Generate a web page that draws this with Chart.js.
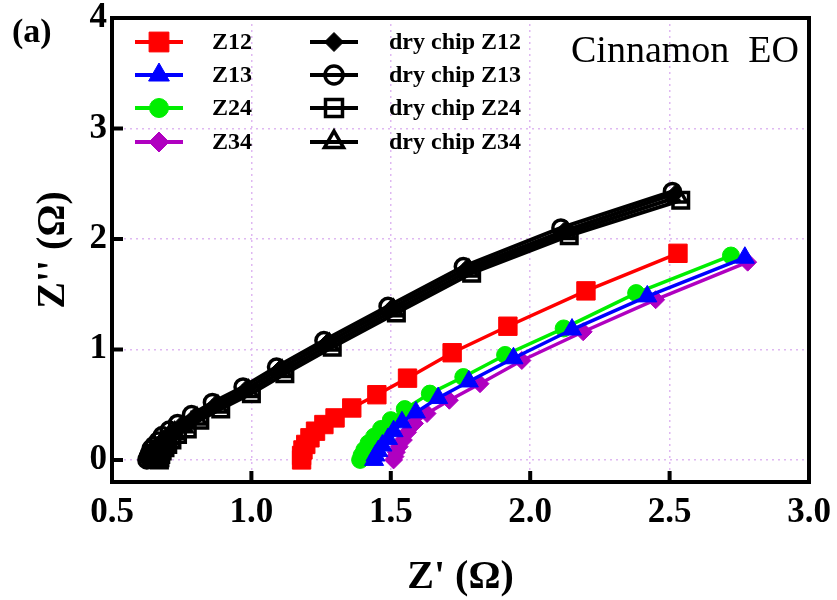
<!DOCTYPE html>
<html>
<head>
<meta charset="utf-8">
<script src="https://cdn.jsdelivr.net/npm/chart.js@4.4.0/dist/chart.umd.min.js"></script>
<style>
  html, body { margin: 0; padding: 0; background: #fff; }
</style>
</head>
<body>
<canvas id="nyquist" width="837" height="600"></canvas>
<script>
// tick values
const xTicks = [0.5, 1.0, 1.5, 2.0, 2.5, 3.0];
const yTicks = [0, 1, 2, 3, 4];

// EO-treated chip, Z' / Z'' in ohm
const z12X = [1.18, 1.18, 1.185, 1.195, 1.21, 1.23, 1.26, 1.30, 1.36, 1.45, 1.56, 1.72, 1.92, 2.20, 2.53];
const z12Y = [0.00, 0.04, 0.09, 0.14, 0.20, 0.26, 0.32, 0.38, 0.47, 0.59, 0.74, 0.97, 1.21, 1.53, 1.87];
const z13X = [1.44, 1.445, 1.455, 1.47, 1.49, 1.51, 1.54, 1.59, 1.67, 1.78, 1.94, 2.15, 2.42, 2.77];
const z13Y = [0.00, 0.04, 0.08, 0.13, 0.19, 0.26, 0.34, 0.43, 0.56, 0.71, 0.92, 1.18, 1.48, 1.83];
const z24X = [1.39, 1.395, 1.405, 1.42, 1.44, 1.465, 1.50, 1.55, 1.64, 1.76, 1.91, 2.12, 2.38, 2.72];
const z24Y = [0.00, 0.04, 0.09, 0.15, 0.21, 0.28, 0.36, 0.46, 0.60, 0.75, 0.95, 1.19, 1.51, 1.85];
const z34X = [1.51, 1.515, 1.52, 1.53, 1.545, 1.56, 1.585, 1.63, 1.71, 1.82, 1.97, 2.19, 2.45, 2.78];
const z34Y = [0.00, 0.03, 0.07, 0.12, 0.18, 0.25, 0.33, 0.42, 0.54, 0.69, 0.90, 1.16, 1.45, 1.79];

// dry chip
const dry12X = [0.63, 0.635, 0.64, 0.65, 0.66, 0.675, 0.69, 0.715, 0.745, 0.795, 0.87, 0.98, 1.10, 1.27, 1.50, 1.77, 2.12, 2.52];
const dry12Y = [0.00, 0.03, 0.06, 0.09, 0.12, 0.16, 0.20, 0.25, 0.31, 0.39, 0.50, 0.64, 0.82, 1.06, 1.37, 1.73, 2.07, 2.41];
const dry13X = [0.625, 0.63, 0.635, 0.64, 0.65, 0.665, 0.68, 0.705, 0.735, 0.785, 0.86, 0.97, 1.09, 1.26, 1.49, 1.76, 2.11, 2.51];
const dry13Y = [0.00, 0.03, 0.06, 0.10, 0.13, 0.17, 0.22, 0.27, 0.33, 0.41, 0.52, 0.66, 0.84, 1.08, 1.39, 1.75, 2.10, 2.43];
const dry24X = [0.67, 0.672, 0.675, 0.68, 0.69, 0.70, 0.715, 0.735, 0.77, 0.815, 0.89, 1.00, 1.12, 1.29, 1.52, 1.79, 2.14, 2.54];
const dry24Y = [0.00, 0.02, 0.05, 0.08, 0.11, 0.14, 0.18, 0.23, 0.28, 0.36, 0.46, 0.60, 0.78, 1.02, 1.33, 1.69, 2.03, 2.35];
const dry34X = [0.645, 0.65, 0.655, 0.66, 0.67, 0.685, 0.70, 0.725, 0.755, 0.805, 0.88, 0.99, 1.11, 1.28, 1.51, 1.78, 2.13, 2.53];
const dry34Y = [0.00, 0.03, 0.05, 0.08, 0.11, 0.15, 0.19, 0.24, 0.30, 0.37, 0.48, 0.62, 0.80, 1.04, 1.35, 1.71, 2.05, 2.38];

function pts(xs, ys) {
    return xs.map((x, i) => ({ x: x, y: ys[i] }));
}

const serif = "'Liberation Serif', 'Times New Roman', serif";

function filled(label, xs, ys, color, style, r, order) {
    return {
        label: label, data: pts(xs, ys), showLine: true,
        borderColor: color, backgroundColor: color, borderWidth: 3.5,
        pointStyle: style, pointRadius: r, pointHoverRadius: r,
        pointBackgroundColor: color, pointBorderColor: color, pointBorderWidth: 1,
        order: order
    };
}
function hollow(label, xs, ys, style, r, order) {
    return {
        label: label, data: pts(xs, ys), showLine: true,
        borderColor: '#000', backgroundColor: '#000', borderWidth: 4,
        pointStyle: style, pointRadius: r, pointHoverRadius: r,
        pointBackgroundColor: 'rgba(0,0,0,0)', pointBorderColor: '#000', pointBorderWidth: 3.5,
        order: order
    };
}

const datasets = [
    filled('Z12', z12X, z12Y, '#ff0000', 'rect', 13, 1),
    filled('Z13', z13X, z13Y, '#0000ff', 'triangle', 11, 2),
    filled('Z24', z24X, z24Y, '#00ee00', 'circle', 8.5, 3),
    filled('Z34', z34X, z34Y, '#b000c0', 'rectRot', 9, 4),
    Object.assign(filled('dry chip Z12', dry12X, dry12Y, '#000', 'rectRot', 8.5, 5), { borderWidth: 4 }),
    hollow('dry chip Z13', dry13X, dry13Y, 'circle', 8, 6),
    hollow('dry chip Z24', dry24X, dry24Y, 'rect', 11, 7),
    hollow('dry chip Z34', dry34X, dry34Y, 'triangle', 10, 8)
];

// frame, inner ticks, legend and labels
const decor = {
    id: 'decor',
    afterDraw(chart) {
        const ctx = chart.ctx;
        const ca = chart.chartArea;
        const xs = chart.scales.x, ys = chart.scales.y;
        ctx.save();
        ctx.strokeStyle = '#000';
        ctx.lineWidth = 4;
        ctx.strokeRect(ca.left, ca.top, ca.right - ca.left, ca.bottom - ca.top);
        ctx.beginPath();
        xTicks.slice(1, -1).forEach(v => {
            const px = xs.getPixelForValue(v);
            ctx.moveTo(px, ca.bottom);
            ctx.lineTo(px, ca.bottom - 11);
        });
        yTicks.slice(0, -1).forEach(v => {
            const py = ys.getPixelForValue(v);
            ctx.moveTo(ca.left, py);
            ctx.lineTo(ca.left + 11, py);
        });
        ctx.stroke();

        ctx.fillStyle = '#000';
        ctx.textBaseline = 'middle';
        ctx.font = 'bold 34px ' + serif;
        ctx.fillText('(a)', 12, 33);
        ctx.textBaseline = 'alphabetic';
        ctx.font = '38px ' + serif;
        ctx.fillText('Cinnamon  EO', 571, 62);

        // legend, two columns
        const rows = [42, 75, 108, 142];
        const cols = [{ l: 135, r: 183, t: 212 }, { l: 310, r: 358, t: 389 }];
        ctx.font = 'bold 24px ' + serif;
        ctx.textBaseline = 'middle';
        chart.data.datasets.forEach((ds, i) => {
            const c = cols[Math.floor(i / 4)];
            const y = rows[i % 4];
            ctx.strokeStyle = ds.borderColor;
            ctx.lineWidth = 4;
            ctx.beginPath();
            ctx.moveTo(c.l, y);
            ctx.lineTo(c.r, y);
            ctx.stroke();
            ctx.fillStyle = ds.pointBackgroundColor;
            ctx.strokeStyle = ds.pointBorderColor;
            ctx.lineWidth = ds.pointBorderWidth;
            Chart.helpers.drawPoint(ctx, {
                pointStyle: ds.pointStyle, radius: ds.pointRadius + 1,
                borderWidth: ds.pointBorderWidth, rotation: 0
            }, (c.l + c.r) / 2, y);
            ctx.fillStyle = '#000';
            ctx.fillText(ds.label, c.t, y + 1);
        });
        ctx.restore();
    }
};

const gridColor = '#dfb8f2';

new Chart(document.getElementById('nyquist'), {
    type: 'scatter',
    data: { datasets: datasets },
    options: {
        responsive: false,
        animation: false,
        layout: { padding: { left: 0, top: 18, right: 28, bottom: 0 } },
        plugins: { legend: { display: false }, tooltip: { enabled: false } },
        scales: {
            x: {
                type: 'linear', min: 0.5, max: 3.0,
                afterBuildTicks: s => { s.ticks = xTicks.map(v => ({ value: v })); },
                afterFit: s => { s.height = 118; s.paddingLeft = 0; s.paddingRight = 0; },
                ticks: {
                    callback: v => v.toFixed(1), color: '#000', padding: 10,
                    maxRotation: 0, autoSkip: false,
                    font: { family: serif, weight: 'bold', size: 35 }
                },
                grid: { color: gridColor, lineWidth: 1.5, drawTicks: false },
                border: { display: false, dash: [2, 4] },
                title: {
                    display: true, text: "Z' (\u03A9)", color: '#000',
                    padding: { top: 0, bottom: 0 },
                    font: { family: serif, weight: 'bold', size: 40, lineHeight: 1.1 }
                }
            },
            y: {
                type: 'linear', min: -0.2, max: 4,
                afterBuildTicks: s => { s.ticks = yTicks.map(v => ({ value: v })); },
                afterFit: s => { s.width = 112; s.paddingTop = 0; s.paddingBottom = 0; },
                ticks: {
                    callback: v => String(v), color: '#000', padding: 5,
                    font: { family: serif, weight: 'bold', size: 35 }
                },
                grid: { color: gridColor, lineWidth: 1.5, drawTicks: false },
                border: { display: false, dash: [2, 4] },
                title: {
                    display: true, text: "Z'' (\u03A9)", color: '#000',
                    padding: { top: 30, bottom: 0 },
                    font: { family: serif, weight: 'bold', size: 40, lineHeight: 1.2 }
                }
            }
        }
    },
    plugins: [decor]
});
</script>
</body>
</html>
